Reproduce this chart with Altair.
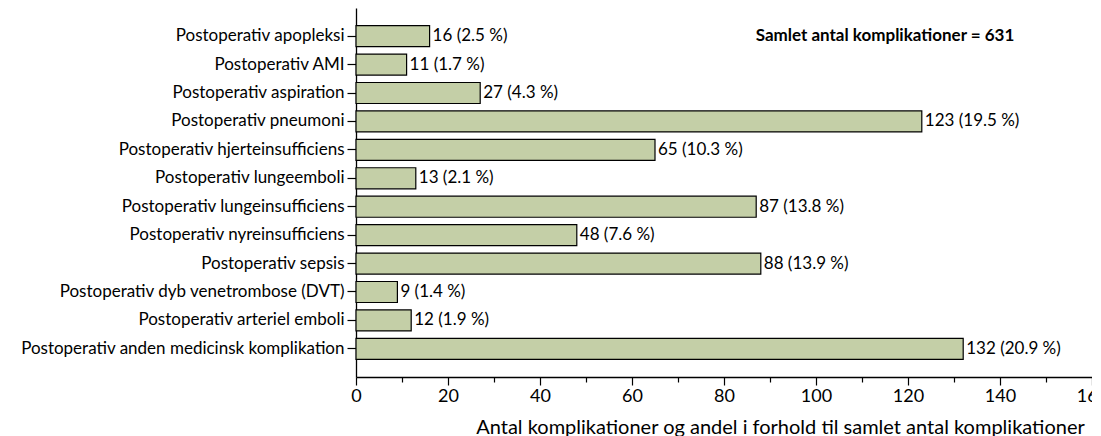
import altair as alt
import pandas as pd

categories = [
    "Postoperativ apopleksi",
    "Postoperativ AMI",
    "Postoperativ aspiration",
    "Postoperativ pneumoni",
    "Postoperativ hjerteinsufficiens",
    "Postoperativ lungeemboli",
    "Postoperativ lungeinsufficiens",
    "Postoperativ nyreinsufficiens",
    "Postoperativ sepsis",
    "Postoperativ dyb venetrombose (DVT)",
    "Postoperativ arteriel emboli",
    "Postoperativ anden medicinsk komplikation",
]
counts = [16, 11, 27, 123, 65, 13, 87, 48, 88, 9, 12, 132]
percents = ["2.5", "1.7", "4.3", "19.5", "10.3", "2.1", "13.8", "7.6", "13.9", "1.4", "1.9", "20.9"]
x_ticks = list(range(0, 161, 10))
total_label = "Samlet antal komplikationer = 631"

df = pd.DataFrame({
    "cat": categories,
    "n": counts,
    "label": [f"{c} ({p} %)" for c, p in zip(counts, percents)],
})

FONT = "Lato"

y_enc = alt.Y(
    "cat:N",
    sort=categories,
    scale=alt.Scale(paddingInner=0.26, paddingOuter=0.62),
    axis=alt.Axis(
        title=None, labelFont=FONT, labelFontSize=17, labelColor="black",
        labelLimit=400,
        tickSize=9, tickColor="black", tickWidth=1.2, labelPadding=3,
        domainColor="black", domainWidth=1.3, grid=False,
    ),
)

x_enc = alt.X(
    "n:Q",
    scale=alt.Scale(domain=[0, 160], nice=False),
    axis=alt.Axis(
        title="Antal komplikationer og andel i forhold til samlet antal komplikationer",
        titleFont=FONT, titleFontSize=20, titleFontWeight="normal", titleColor="black",
        titleX=424, titleY=50, titleAlign="center", titleBaseline="middle",
        values=x_ticks,
        labelExpr="datum.value % 20 === 0 ? datum.label : ''",
        labelFont=FONT, labelFontSize=18, labelColor="black", labelPadding=2,
        labelFlush=False, labelOverlap=False,
        tickSize={"condition": {"test": "datum.value % 20 === 0", "value": 8}, "value": 5},
        tickColor="black", tickWidth=1.2,
        domainColor="black", domainWidth=1.3, grid=False,
    ),
)

bars = alt.Chart(df).mark_bar(
    color="#c4cfa7", stroke="black", strokeWidth=1.2
).encode(x=x_enc, y=y_enc)

texts = alt.Chart(df).mark_text(
    align="left", baseline="middle", dx=3, font=FONT, fontSize=17, color="black"
).encode(x="n:Q", y=alt.Y("cat:N", sort=categories), text="label:N")

ann_df = pd.DataFrame({"x": [115], "cat": [categories[0]], "t": [total_label]})
ann = alt.Chart(ann_df).mark_text(
    align="center", baseline="middle", font=FONT, fontSize=17, fontWeight="bold", color="black"
).encode(x="x:Q", y=alt.Y("cat:N", sort=categories), text="t:N")

chart = (bars + texts + ann).properties(
    width=736, height=369,
    autosize=alt.AutoSizeParams(type="none"),
    padding={"left": 348, "top": 0, "right": 0, "bottom": 60},
).configure_view(stroke=None)

chart.save("out.html", embed_options={"renderer": "svg", "actions": False})
